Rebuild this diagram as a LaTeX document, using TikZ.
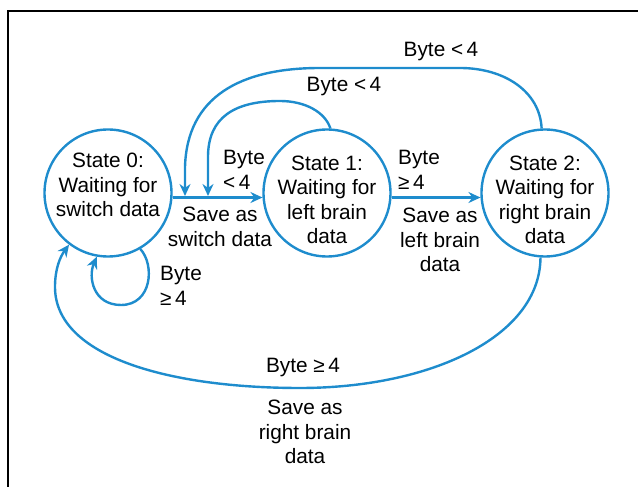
\documentclass[tikz,border=0pt]{standalone}
\usepackage{fontspec}
\setmainfont{Liberation Sans}
\usetikzlibrary{arrows.meta}
\definecolor{lineblue}{RGB}{30,140,205}
\tikzset{
  statecircle/.style={circle,draw=lineblue,line width=2.4pt,minimum size=127pt,inner sep=0pt},
  txt/.style={font=\fontsize{20.8}{24.5}\selectfont,inner sep=0pt,align=center,text=black},
  txtl/.style={txt,align=left,anchor=west},
  conn/.style={draw=lineblue,line width=2.4pt,-{Stealth[length=12pt,width=11pt]}},
  frameline/.style={draw=black,line width=2.5pt}
}
\begin{document}
\begin{tikzpicture}[x=1pt,y=1pt]
\useasboundingbox (0,0) rectangle (638,487);
% frame
\coordinate (fa) at (8,0);
\coordinate (fb) at (8,476);
\coordinate (fc) at (638,476);
\draw[frameline] (fa) -- (fb) -- (fc);
% states
\node[statecircle] (s0) at (108,294) {};
\node[statecircle] (s1) at (327,294) {};
\node[statecircle] (s2) at (545,294) {};
\node[txt] (t0) at (108,302) {State 0:\\Waiting for\\switch data};
\node[txt] (t1) at (327,287) {State 1:\\Waiting for\\left brain\\data};
\node[txt] (t2) at (545,287) {State 2:\\Waiting for\\right brain\\data};
% junction points on the 0->1 arrow
\coordinate (j1) at (208,291);
\coordinate (j2) at (185,291);
% straight transitions
\draw[conn] (s0.-4.5) -- (s1.184.5);
\draw[conn] (s1.-4.5) -- (s2.184.5);
% inner loop 1 -> 0
\draw[conn] (s1.87) .. controls (325,375) and (305,386) .. (280,386)
  .. controls (235,386) and (208,370) .. (208,330) -- (j1);
% outer loop 2 -> 0
\draw[conn] (s2.93) .. controls (540,395) and (505,419) .. (460,419) -- (320,419)
  .. controls (240,419) and (187,390) .. (185,320) -- (j2);
% self loop on state 0
\draw[conn] (s0.300) .. controls (155,222) and (152,182) .. (121,182)
  .. controls (93,182) and (88,210) .. (s0.260);
% bottom loop 2 -> 0
\draw[conn] (s2.266) .. controls (540,150) and (430,99) .. (300,99)
  .. controls (170,99) and (55,130) .. (55,200)
  .. controls (55,218) and (60,230) .. (s0.233);
% labels
\node[txt] (l1) at (441,435) {Byte <\,4};
\node[txt] (l2) at (344,400) {Byte <\,4};
\node[txtl] (l3) at (223,317) {Byte\\<\,4};
\node[txt] (l4) at (220,260) {Save as\\switch data};
\node[txtl] (l5) at (398,317) {Byte\\≥\,4};
\node[txt] (l6) at (440,247) {Save as\\left brain\\data};
\node[txtl] (l7) at (160,201) {Byte\\≥\,4};
\node[txt] (l8) at (303,119) {Byte ≥\,4};
\node[txt] (l9) at (305,55) {Save as\\right brain\\data};
\end{tikzpicture}
\end{document}
